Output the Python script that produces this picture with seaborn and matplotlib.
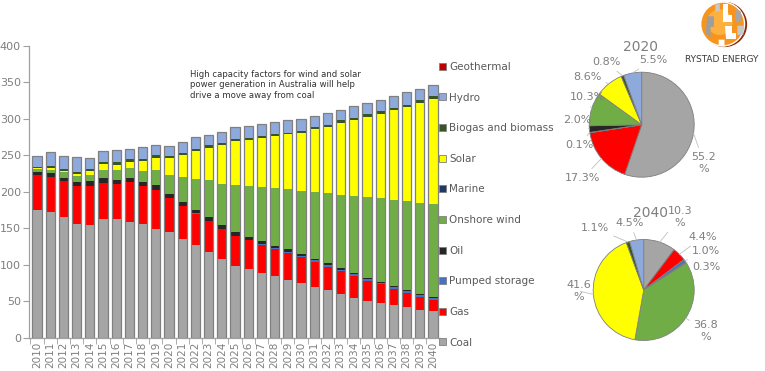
import numpy as np
import pandas as pd
import matplotlib
matplotlib.use("Agg")
import matplotlib.pyplot as plt
from matplotlib.patches import Patch, Circle, Polygon
import seaborn as sns

# ---- data (TWh) ----
years = [str(y) for y in range(2010, 2041)]

coal = [175.6, 172.4, 165.5, 155.5, 155.0, 162.0, 162.0, 158.7, 156.4, 148.6, 145.3,
        135.8, 126.7, 117.6, 108.0, 98.4, 93.8, 88.8, 84.3, 78.8, 74.2,
        69.2, 64.6, 59.6, 54.6, 50.0, 46.8, 44.1, 41.3, 38.2, 35.7]
gas = [47.0, 48.0, 49.0, 52.0, 53.0, 50.0, 48.0, 54.7, 51.0, 54.4, 45.5,
       44.2, 43.3, 42.0, 40.2, 41.1, 39.8, 37.9, 36.9, 36.6, 35.6,
       34.7, 32.4, 31.4, 29.6, 27.8, 26.0, 22.3, 19.7, 17.3, 15.3]
pumped_storage = [0, 0, 0, 0, 0, 0, 0, 0, 0, 0, 0.3,
                  0.3, 0.3, 0.4, 0.4, 0.4, 0.6, 1.5, 1.6, 2.5, 2.2,
                  2.1, 2.6, 2.2, 2.3, 2.0, 2.5, 2.9, 3.0, 2.7, 3.5]
oil = [4.0, 5.0, 4.5, 5.5, 6.5, 7.0, 6.5, 6.0, 6.0, 6.0, 5.3,
       5.7, 5.3, 5.5, 5.5, 4.2, 4.0, 4.0, 3.0, 3.0, 2.4,
       2.0, 2.0, 1.5, 1.4, 1.2, 1.2, 1.2, 1.1, 1.0, 1.0]
onshore_wind = [5.0, 5.0, 8.0, 8.0, 9.0, 11.5, 13.0, 13.7, 15.5, 20.5, 27.1,
                34.3, 42.4, 50.3, 57.1, 65.7, 69.3, 74.0, 79.0, 82.6, 87.2,
                91.8, 96.8, 101.4, 106.8, 111.9, 114.6, 118.8, 121.9, 125.5, 127.7]
marine = [0] * 31
solar = [0.5, 2.0, 2.0, 4.0, 4.5, 7.0, 7.5, 7.8, 13.0, 17.0, 22.7,
         30.6, 37.8, 44.7, 52.5, 59.4, 64.0, 67.1, 71.3, 75.2, 79.1,
         85.8, 90.4, 98.6, 103.2, 109.5, 115.9, 122.2, 129.1, 136.9, 144.4]
biogas = [2.5, 2.5, 2.5, 2.0, 3.0, 3.0, 3.5, 3.6, 3.5, 3.5, 2.2,
          2.3, 3.0, 3.2, 3.2, 2.7, 2.7, 2.7, 2.7, 2.3, 2.7,
          3.2, 3.2, 3.2, 3.7, 3.7, 3.2, 3.7, 3.2, 3.7, 3.8]
hydro = [14.0, 19.5, 18.0, 21.0, 15.0, 15.0, 17.0, 14.6, 16.5, 14.6, 14.6,
         15.1, 16.0, 14.6, 15.1, 16.9, 16.0, 17.4, 16.4, 17.0, 15.9,
         15.0, 16.4, 14.6, 15.4, 15.5, 16.0, 16.0, 17.3, 15.8, 15.6]
geothermal = [0] * 31

names = ["Coal", "Gas", "Pumped storage", "Oil", "Onshore wind", "Marine",
         "Solar", "Biogas and biomass", "Hydro", "Geothermal"]
series = [coal, gas, pumped_storage, oil, onshore_wind, marine,
          solar, biogas, hydro, geothermal]
colors = ["#A5A5A5", "#FF0000", "#4472C4", "#262626", "#70AD47", "#1F3864",
          "#FFFF00", "#375623", "#8EA9DB", "#C00000"]

pie_2020_labels = ["55.2\n%", "17.3%", "0.1%", "2.0%", "10.3%", "8.6%", "0.8%", "5.5%"]
pie_2040_labels = ["10.3\n%", "4.4%", "1.0%", "0.3%", "36.8\n%", "41.6\n%", "1.1%", "4.5%"]
# label anchor positions (pixels from top-left)
pie_2020_pos = [(704, 163), (583, 178), (579, 145), (577, 120), (587, 97), (587, 77), (606, 62), (653, 60)]
pie_2040_pos = [(680, 217), (703, 237), (706, 251), (706, 267), (706, 331), (579, 291), (595, 228), (630, 223)]

df = pd.DataFrame({n: s for n, s in zip(names, series)}, index=years)
cum = df.cumsum(axis=1)

W, H = 765, 371
sns.set_style("white")
plt.rcParams["font.family"] = ["DejaVu Sans"]
fig = plt.figure(figsize=(W / 100, H / 100), dpi=100)

grey = "#7F7F7F"

# ---- stacked bars ----
ax = fig.add_axes([29.3 / W, 1 - 337.5 / H, (439.6 - 29.3) / W, (337.5 - 46) / H])
for n, c in reversed(list(zip(names, colors))):
    sns.barplot(x=years, y=cum[n].values, color=c, saturation=1, width=0.7,
                linewidth=0, errorbar=None, ax=ax)
sns.barplot(x=years, y=cum["Geothermal"].values, fill=False, color="#808080",
            width=0.7, linewidth=0.9, errorbar=None, ax=ax)

ax.set_xlim(-0.58, 30.5)
ax.set_ylim(0, 400)
ax.set_yticks(range(0, 401, 50))
ax.set_xlabel("")
ax.set_ylabel("")
for s in ["top", "right"]:
    ax.spines[s].set_visible(False)
for s in ["left", "bottom"]:
    ax.spines[s].set_color("#A0A0A0")
    ax.spines[s].set_linewidth(0.9)
ax.tick_params(axis="y", left=True, length=4, color="#A0A0A0", labelsize=8, labelcolor=grey, pad=2)
ax.tick_params(axis="x", bottom=False, length=0, labelsize=7.5, labelcolor=grey, rotation=90, pad=3)
ax.set_xticks(np.arange(-0.5, 30.5, 1), minor=True)
ax.tick_params(axis="x", which="minor", bottom=True, length=4, color="#A0A0A0")

handles = [Patch(facecolor=c, edgecolor="#808080", linewidth=0.6, label=n)
           for n, c in zip(names, colors)][::-1]
ax.legend(handles=handles, loc="upper left", bbox_to_anchor=(439 / W, 1 - 62 / H),
          bbox_transform=fig.transFigure, frameon=False, fontsize=7.5,
          labelcolor="#595959", handlelength=0.65, handleheight=0.65,
          handletextpad=0.3, labelspacing=1.98, borderpad=0, borderaxespad=0)

fig.text(190 / W, 1 - 70 / H,
         "High capacity factors for wind and solar\npower generation in Australia will help\ndrive a move away from coal",
         fontsize=6.1, color="#333333", va="top", ha="left", linespacing=1.2)


# ---- pies ----
def draw_pie(cx, cy, r, year, labels, positions, title_xy):
    a = fig.add_axes([(cx - r) / W, 1 - (cy + r) / H, 2 * r / W, 2 * r / H])
    vals = df.loc[year].values
    keep = vals > 0
    v = vals[keep]
    cols = [c for c, k in zip(colors, keep) if k]
    a.pie(v, colors=cols, startangle=90, counterclock=False, radius=1,
          wedgeprops=dict(edgecolor="#7F7F7F", linewidth=0.6))
    a.set_xlim(-1, 1)
    a.set_ylim(-1, 1)
    a.set_aspect("equal")
    a.axis("off")
    frac = v / v.sum()
    start = np.concatenate([[0], np.cumsum(frac)[:-1]])
    for f0, f, lab, (px, py) in zip(start, frac, labels, positions):
        th = np.deg2rad(90 - 360 * (f0 + f / 2))
        a.annotate(lab, xy=(np.cos(th), np.sin(th)), xycoords="data",
                   xytext=(px, H - py), textcoords="figure pixels",
                   ha="center", va="center", fontsize=8, color=grey,
                   multialignment="center", annotation_clip=False,
                   arrowprops=dict(arrowstyle="-", color="#BFBFBF", lw=0.6,
                                   shrinkA=1, shrinkB=0))
    fig.text(title_xy[0] / W, 1 - title_xy[1] / H, year, fontsize=10,
             color=grey, ha="center", va="center")


draw_pie(641.7, 124.7, 52.5, "2020", pie_2020_labels, pie_2020_pos, (641, 47))
draw_pie(643.7, 290.0, 50.5, "2040", pie_2040_labels, pie_2040_pos, (650, 213))

# ---- logo ----
lg = fig.add_axes([700 / W, 1 - 49 / H, 49 / W, 49 / H])
lg.set_xlim(-1.05, 1.05)
lg.set_ylim(-1.05, 1.05)
lg.set_aspect("equal")
lg.axis("off")
lg.add_patch(Circle((0, 0), 1, facecolor="#8B2A0A"))
lg.add_patch(Circle((-0.08, 0.02), 0.94, facecolor="#F7941D"))
lg.add_patch(Circle((-0.2, 0.1), 0.55, facecolor="#FBB040", linewidth=0))
for pts, fc in [
    ([(-0.75, 0.35), (-0.45, 0.35), (-0.45, -0.1), (-0.6, -0.1), (-0.6, -0.55), (-0.8, -0.4)], "#9E9E9E"),
    ([(-0.05, 0.9), (0.15, 0.9), (0.15, 0.4), (0.3, 0.4), (0.3, 0.1), (-0.05, 0.1)], "white"),
    ([(0.0, -0.05), (0.3, -0.05), (0.3, -0.35), (0.5, -0.35), (0.5, -0.6), (0.05, -0.6)], "white"),
    ([(-0.25, -0.65), (0.0, -0.65), (0.0, -0.95), (-0.25, -0.9)], "white"),
    ([(0.45, 0.7), (0.7, 0.55), (0.7, 0.1), (0.45, 0.1)], "#A6A6A6"),
    ([(0.55, -0.05), (0.85, -0.05), (0.8, -0.45), (0.55, -0.45)], "#C8C8C8"),
    ([(-0.4, 0.85), (-0.2, 0.9), (-0.2, 0.55), (-0.4, 0.55)], "#C8C8C8"),
]:
    lg.add_patch(Polygon(pts, closed=True, facecolor=fc, linewidth=0))
fig.text(722 / W, 1 - 60 / H, "RYSTAD ENERGY", fontsize=6.5, color="#3A3A3A",
         ha="center", va="center")

fig.savefig("out.png", dpi=100, facecolor="white")
